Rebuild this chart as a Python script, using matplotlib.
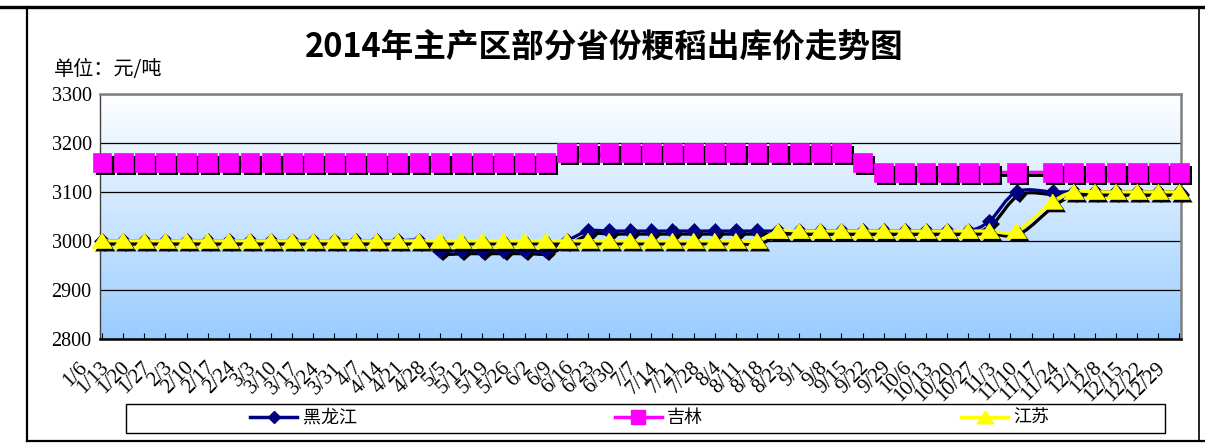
import matplotlib
matplotlib.use("Agg")
import matplotlib.pyplot as plt
import matplotlib.dates as mdates
import matplotlib.patheffects as pe
from matplotlib.colors import LinearSegmentedColormap
from matplotlib.lines import Line2D
from matplotlib.patches import PathPatch, Rectangle
from matplotlib.path import Path
from matplotlib.transforms import ScaledTranslation
from datetime import datetime
import numpy as np

# ---------------- data ----------------
title = "2014年主产区部分省份粳稻出库价走势图"
unit_label = "单位：元/吨"
series_names = ["黑龙江", "吉林", "江苏"]

dates = [
    "2014-01-06", "2014-01-13", "2014-01-20", "2014-01-27",
    "2014-02-03", "2014-02-10", "2014-02-17", "2014-02-24",
    "2014-03-03", "2014-03-10", "2014-03-17", "2014-03-24", "2014-03-31",
    "2014-04-07", "2014-04-14", "2014-04-21", "2014-04-28",
    "2014-05-05", "2014-05-12", "2014-05-19", "2014-05-26",
    "2014-06-02", "2014-06-09", "2014-06-16", "2014-06-23", "2014-06-30",
    "2014-07-07", "2014-07-14", "2014-07-21", "2014-07-28",
    "2014-08-04", "2014-08-11", "2014-08-18", "2014-08-25",
    "2014-09-01", "2014-09-08", "2014-09-15", "2014-09-22", "2014-09-29",
    "2014-10-06", "2014-10-13", "2014-10-20", "2014-10-27",
    "2014-11-05", "2014-11-17", "2014-11-24",
    "2014-12-01", "2014-12-08", "2014-12-15", "2014-12-22", "2014-12-29",
]

heilongjiang = [
    3000, 3000, 3000, 3000, 3000, 3000, 3000, 3000,
    3000, 3000, 3000, 3000, 3000, 3000, 3000, 3000,
    2980, 2980, 2980, 2980, 2980, 2980, 3000,
    3020, 3020, 3020, 3020, 3020, 3020, 3020, 3020, 3020, 3020,
    3020, 3020, 3020, 3020, 3020, 3020, 3020, 3020, 3020,
    3040, 3100, 3100, 3100, 3100, 3100, 3100, 3100, 3100,
]

jilin = [
    3160, 3160, 3160, 3160, 3160, 3160, 3160, 3160, 3160, 3160, 3160,
    3160, 3160, 3160, 3160, 3160, 3160, 3160, 3160, 3160, 3160, 3160,
    3180, 3180, 3180, 3180, 3180, 3180, 3180,
    3180, 3180, 3180, 3180, 3180, 3180, 3180,
    3160,
    3140, 3140, 3140, 3140, 3140, 3140, 3140,
    3140, 3140, 3140, 3140, 3140, 3140, 3140,
]

jiangsu = [
    3000, 3000, 3000, 3000, 3000, 3000, 3000, 3000,
    3000, 3000, 3000, 3000, 3000, 3000, 3000, 3000,
    3000, 3000, 3000, 3000, 3000, 3000, 3000, 3000,
    3000, 3000, 3000, 3000, 3000, 3000, 3000, 3000,
    3020, 3020, 3020, 3020, 3020, 3020, 3020, 3020, 3020, 3020, 3020, 3020,
    3080, 3100, 3100, 3100, 3100, 3100, 3100,
]

x_tick_labels = [
    "1/6", "1/13", "1/20", "1/27", "2/3", "2/10", "2/17", "2/24",
    "3/3", "3/10", "3/17", "3/24", "3/31", "4/7", "4/14", "4/21", "4/28",
    "5/5", "5/12", "5/19", "5/26", "6/2", "6/9", "6/16", "6/23", "6/30",
    "7/7", "7/14", "7/21", "7/28", "8/4", "8/11", "8/18", "8/25",
    "9/1", "9/8", "9/15", "9/22", "9/29", "10/6", "10/13", "10/20", "10/27",
    "11/3", "11/10", "11/17", "11/24", "12/1", "12/8", "12/15", "12/22", "12/29",
]
y_ticks = [2800, 2900, 3000, 3100, 3200, 3300]

# ---------------- styling ----------------
W, H = 1205, 445
DPI = 100
CJK = ["Noto Sans CJK SC", "DejaVu Sans"]
SERIF = ["Liberation Serif", "DejaVu Serif"]

colors = ["#000080", "#FF00FF", "#FFFF00"]
markers = ["D", "s", Path([(-1, -0.75), (1, -0.75), (0, 0.75), (-1, -0.75)],
                          [Path.MOVETO, Path.LINETO, Path.LINETO, Path.CLOSEPOLY])]
marker_sizes = [7.8, 13.5, 14.5]
legend_marker_sizes = [6.5, 9.5, 12]


def px_x(x):
    return x / W


def px_y(y):
    return 1 - y / H


def smooth_path(xs, ys):
    """Cubic Bezier curve through the points (Catmull-Rom style smoothing)."""
    n = len(xs)
    verts = [(xs[0], ys[0])]
    codes = [Path.MOVETO]
    for i in range(n - 1):
        x0, y0 = (xs[i - 1], ys[i - 1]) if i > 0 else (xs[i], ys[i])
        x3, y3 = (xs[i + 2], ys[i + 2]) if i + 2 < n else (xs[i + 1], ys[i + 1])
        c1 = (xs[i] + (xs[i + 1] - x0) / 6.0, ys[i] + (ys[i + 1] - y0) / 6.0)
        c2 = (xs[i + 1] - (x3 - xs[i]) / 6.0, ys[i + 1] - (y3 - ys[i]) / 6.0)
        verts += [c1, c2, (xs[i + 1], ys[i + 1])]
        codes += [Path.CURVE4] * 3
    return Path(verts, codes)


fig = plt.figure(figsize=(W / DPI, H / DPI), dpi=DPI)
fig.patch.set_facecolor("white")

ax_left, ax_right, ax_top, ax_bottom = 100, 1181, 94, 338.7
ax = fig.add_axes([px_x(ax_left), px_y(ax_bottom),
                   px_x(ax_right - ax_left), (ax_bottom - ax_top) / H])

# plot-area gradient fill
grad_cmap = LinearSegmentedColormap.from_list("plotfill", ["#99CCFF", "#FFFFFF"])
grad = np.linspace(0, 1, 256).reshape(-1, 1)
ax.imshow(grad, extent=[0, 1, 0, 1], transform=ax.transAxes, origin="lower",
          aspect="auto", cmap=grad_cmap, zorder=0, interpolation="bicubic")

x = mdates.date2num([datetime.strptime(d, "%Y-%m-%d") for d in dates])
tick_x = mdates.date2num([datetime.strptime("2014/" + t, "%Y/%m/%d")
                          for t in x_tick_labels])

shadow_line = [pe.SimpleLineShadow(offset=(2.2, -2.2), shadow_color="black", alpha=1.0),
               pe.Normal()]
shadow_mark = [pe.SimplePatchShadow(offset=(2.2, -2.2), shadow_rgbFace="black", alpha=1.0),
               pe.Normal()]

for k, (vals, col, mk, ms) in enumerate(zip([heilongjiang, jilin, jiangsu],
                                             colors, markers, marker_sizes)):
    z = 3 + 2 * k
    patch = PathPatch(smooth_path(x, np.asarray(vals, float)), fill=False,
                      edgecolor=col, lw=2.3, transform=ax.transData, zorder=z,
                      capstyle="round", joinstyle="round", path_effects=shadow_line)
    ax.add_patch(patch)
    ax.plot(x, vals, ls="none", marker=mk, ms=ms, mfc=col, mec=col, mew=0.5,
            zorder=z + 1, clip_on=False, path_effects=shadow_mark)

ax.set_xlim(x[0] - 0.7, x[-1] + 0.5)
ax.set_ylim(2800, 3300)

# axes and grid
ax.set_yticks(y_ticks)
ax.set_yticklabels([str(v) for v in y_ticks], family=SERIF, fontsize=14.5)
ax.tick_params(axis="y", length=0, pad=6)
ax.yaxis.grid(True, color="black", lw=0.9)
ax.set_axisbelow(True)

ax.set_xticks(tick_x)
ax.set_xticklabels(x_tick_labels, family=SERIF, fontsize=15, rotation=45,
                   ha="right", va="center", rotation_mode="anchor")
ax.tick_params(axis="x", direction="in", length=4, width=0.8, pad=19, colors="black")
shift = ScaledTranslation(-17 / DPI, 0, fig.dpi_scale_trans)
for lab in ax.get_xticklabels():
    lab.set_transform(lab.get_transform() + shift)

for side, c, lw in [("left", "#404040", 1.0), ("bottom", "black", 1.8),
                    ("top", "#808080", 1.8), ("right", "#808080", 1.8)]:
    ax.spines[side].set_color(c)
    ax.spines[side].set_linewidth(lw)

# title and unit
fig.text(px_x(604), px_y(47), title, ha="center", va="center", fontsize=23.5,
         fontweight="bold", family=CJK)
fig.text(px_x(54), px_y(70), unit_label, ha="left", va="center", fontsize=14.5,
         family=CJK)

# legend box and entries
fig.add_artist(Rectangle((px_x(126), px_y(433)), px_x(1165 - 126), (433 - 404) / H,
                         transform=fig.transFigure, facecolor="white",
                         edgecolor="black", lw=1.0))
handles = [Line2D([], [], color=c, lw=2.5, marker=m, ms=s, mfc=c, mec=c)
           for c, m, s in zip(colors, markers, legend_marker_sizes)]
fig.legend(handles, series_names, loc="center", bbox_to_anchor=(px_x(650), px_y(418)),
           ncol=3, frameon=False, prop={"family": CJK, "size": 13},
           handlelength=2.6, handletextpad=0.3, columnspacing=14.3,
           borderaxespad=0, borderpad=0)

# outer frame
frame = dict(transform=fig.transFigure, color="black")
fig.add_artist(Line2D([0, 1], [px_y(7), px_y(7)], lw=2.4, **frame))
fig.add_artist(Line2D([px_x(27), px_x(27)], [px_y(7), px_y(441)], lw=1.6, **frame))
fig.add_artist(Line2D([px_x(27), 1], [px_y(441), px_y(441)], lw=1.6, **frame))
fig.add_artist(Line2D([px_x(1199), px_x(1199)], [px_y(7), px_y(441)], lw=1.2, **frame))

fig.savefig("out.png", dpi=DPI, facecolor="white")
